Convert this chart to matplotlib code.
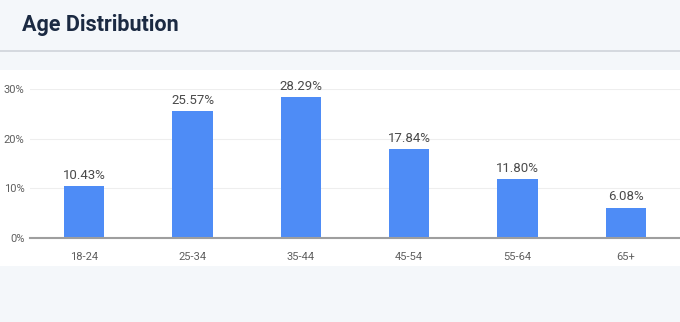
import matplotlib.pyplot as plt
from matplotlib.patches import Rectangle
from matplotlib.lines import Line2D

plt.rcParams["font.family"] = ["Roboto", "DejaVu Sans"]

# data
age_groups = ["18-24", "25-34", "35-44", "45-54", "55-64", "65+"]
shares = [10.43, 25.57, 28.29, 17.84, 11.80, 6.08]
y_ticks = [0, 10, 20, 30]

W, H = 680, 322
fig = plt.figure(figsize=(W / 100, H / 100), dpi=100)
fig.patch.set_facecolor("#f4f7fa")

# white card behind the chart
fig.patches.append(Rectangle((0, 1 - 266 / H), 1, (266 - 70) / H,
                             transform=fig.transFigure, facecolor="white",
                             edgecolor="none", zorder=-5))
# header separator
fig.lines.append(Line2D([0, 1], [1 - 51 / H, 1 - 51 / H], transform=fig.transFigure,
                        color="#cfd4da", linewidth=1.2))
fig.text(22 / W, 1 - 25 / H, "Age Distribution", fontsize=15.5, fontweight="bold",
         color="#1b2a42", va="center", ha="left")

ax = fig.add_axes([30 / W, 1 - 238 / H, 650 / W, (238 - 89) / H])
ax.set_zorder(2)
ax.set_facecolor("none")

x = range(len(age_groups))
bars = ax.bar(x, shares, width=0.37, color="#4e8cf6", zorder=3)
for b, v in zip(bars, shares):
    ax.text(b.get_x() + b.get_width() / 2, v + 0.9, f"{v:.2f}%", ha="center", va="bottom",
            fontsize=9.5, color="#4a4a4a", zorder=4)

ax.set_xlim(-0.5, len(age_groups) - 0.5)
ax.set_ylim(0, 30)
ax.set_yticks(y_ticks)
ax.set_yticklabels([f"{t}%" for t in y_ticks])
ax.set_xticks(list(x))
ax.set_xticklabels(age_groups)
ax.tick_params(axis="both", length=0, labelsize=8, colors="#5f5f5f")
ax.tick_params(axis="y", pad=4)
ax.tick_params(axis="x", pad=10)
ax.grid(axis="y", color="#eeeeee", linewidth=0.8, zorder=0)
for s in ["top", "right", "left"]:
    ax.spines[s].set_visible(False)
ax.spines["bottom"].set_color("#9e9e9e")
ax.spines["bottom"].set_linewidth(1.5)
ax.spines["bottom"].set_zorder(5)

plt.savefig("out.png", dpi=100, facecolor=fig.get_facecolor())
